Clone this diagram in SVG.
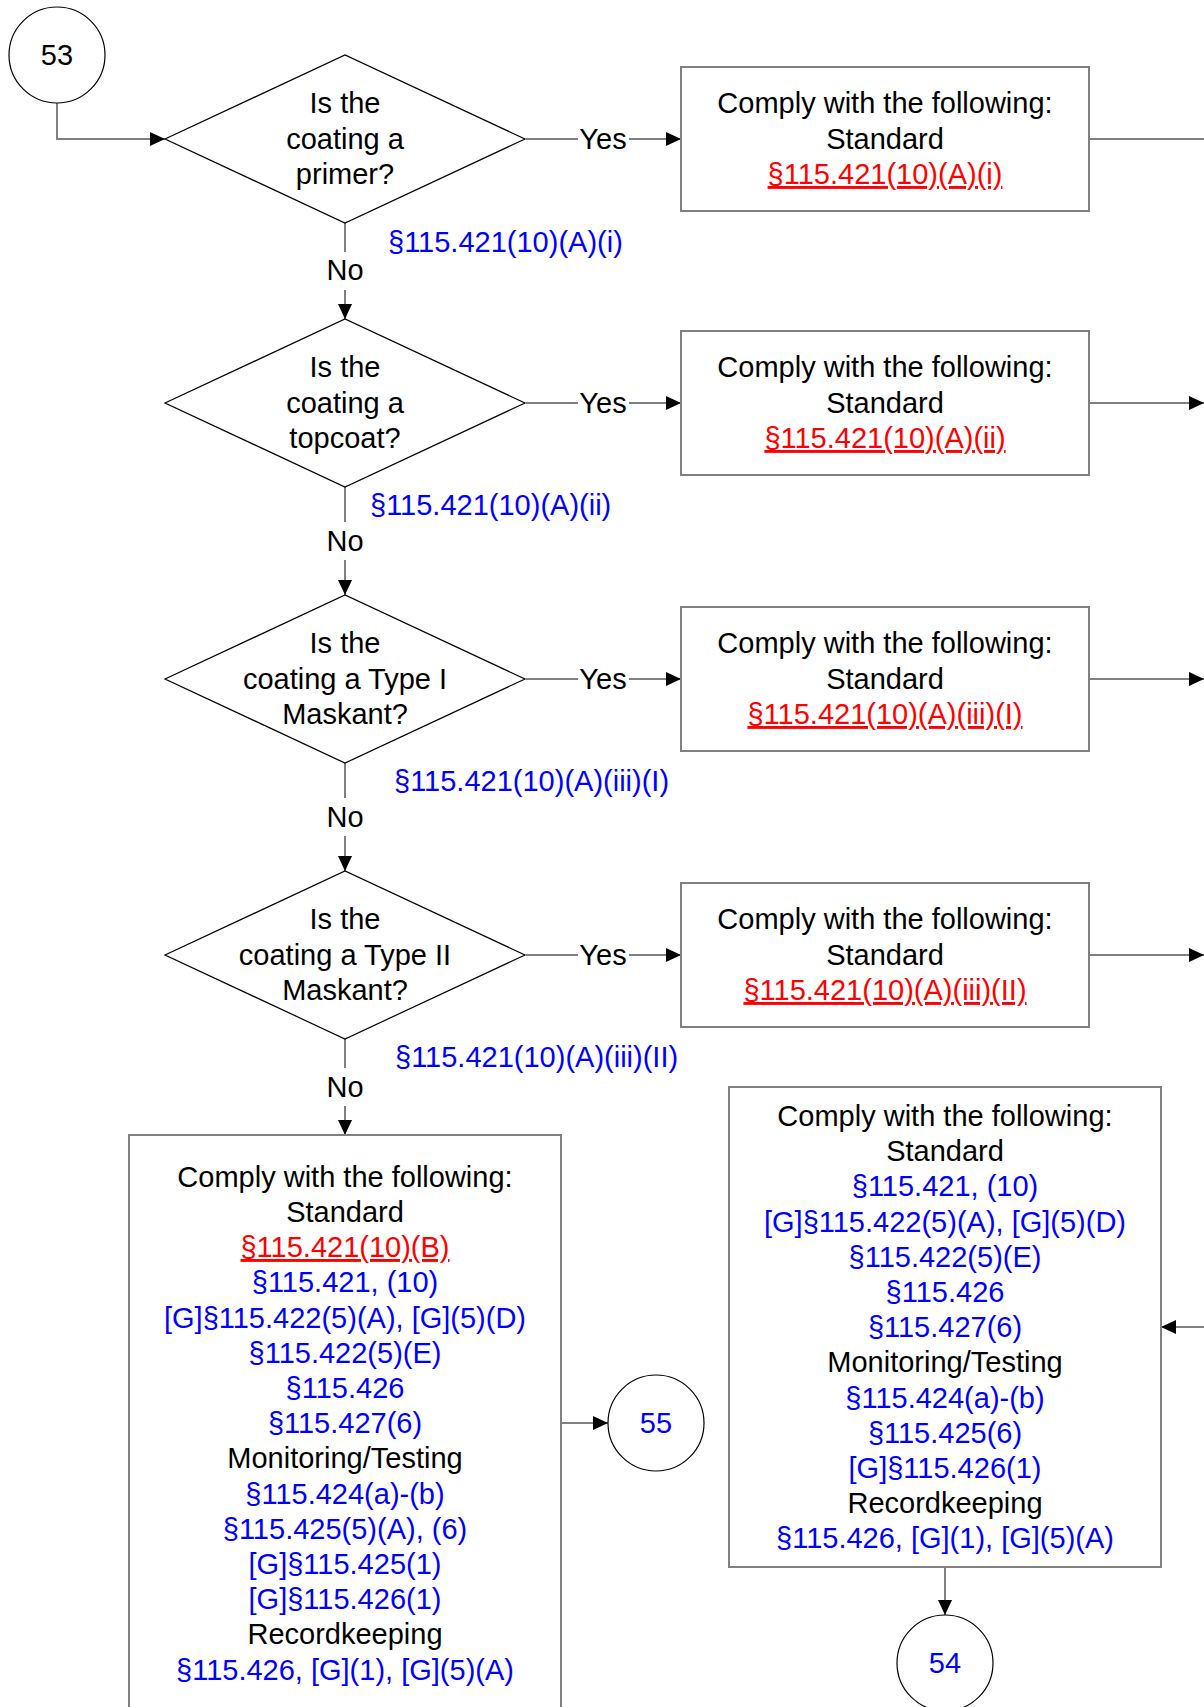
<svg xmlns="http://www.w3.org/2000/svg" width="1204" height="1707" viewBox="0 0 1204 1707">
<defs>
<style>
text{font-family:"Liberation Sans",Arial,sans-serif;font-size:29px;fill:#000}
.c{text-anchor:middle}
.b{fill:#0000FF}
.r{fill:#FF0000;text-decoration:underline;text-decoration-skip-ink:none}
.box{fill:#fff;stroke:#808080;stroke-width:2}
.dia{fill:#fff;stroke:#000;stroke-width:1.2}
.circ{fill:#fff;stroke:#000;stroke-width:1.2}
.ln{fill:none;stroke:#808080;stroke-width:2}
.arr{marker-end:url(#ah)}
</style>
<marker id="ah" markerUnits="userSpaceOnUse" markerWidth="15" markerHeight="14" refX="15" refY="7" orient="auto">
<path d="M0,0 L15,7 L0,14 z" fill="#000"/>
</marker>
</defs>
<rect width="1204" height="1707" fill="#fff"/>

<g id="connectors">
<path class="ln arr" d="M57,103 V139 H165"/>
<path class="ln" d="M526,139 H578"/><path class="ln arr" d="M629,139 H681"/>
<path class="ln" d="M1089,139 H1204"/>
<path class="ln" d="M345,223 V252"/><path class="ln arr" d="M345,290 V319"/>
<path class="ln" d="M526,403 H578"/><path class="ln arr" d="M629,403 H681"/>
<path class="ln arr" d="M1089,403 H1204"/>
<path class="ln" d="M345,487 V522"/><path class="ln arr" d="M345,560 V595"/>
<path class="ln" d="M526,679 H578"/><path class="ln arr" d="M629,679 H681"/>
<path class="ln arr" d="M1089,679 H1204"/>
<path class="ln" d="M345,763 V798"/><path class="ln arr" d="M345,836 V871"/>
<path class="ln" d="M526,955 H578"/><path class="ln arr" d="M629,955 H681"/>
<path class="ln arr" d="M1089,955 H1204"/>
<path class="ln" d="M345,1039 V1068"/><path class="ln arr" d="M345,1106 V1135"/>
<path class="ln arr" d="M561,1423 H608"/>
<path class="ln arr" d="M1204,1327 H1161"/>
<path class="ln arr" d="M945,1567 V1615"/>
<text class="c" x="603" y="149">Yes</text>
<text class="c" x="603" y="413">Yes</text>
<text class="c" x="603" y="689">Yes</text>
<text class="c" x="603" y="965">Yes</text>
<text class="c" x="345" y="280">No</text>
<text class="c" x="345" y="551">No</text>
<text class="c" x="345" y="827">No</text>
<text class="c" x="345" y="1097">No</text>
<text class="b" x="388" y="252">§115.421(10)(A)(i)</text>
<text class="b" x="370" y="515">§115.421(10)(A)(ii)</text>
<text class="b" x="394" y="791">§115.421(10)(A)(iii)(I)</text>
<text class="b" x="395" y="1067">§115.421(10)(A)(iii)(II)</text>
</g>

<g id="c53">
<circle class="circ" cx="57" cy="55" r="48"/>
<text class="c" x="57" y="65">53</text>
</g>

<g id="d1">
<path class="dia" d="M165,139 L345,55 L525,139 L345,223 z"/>
<text class="c" x="345" y="113">Is the</text>
<text class="c" x="345" y="149">coating a</text>
<text class="c" x="345" y="184">primer?</text>
</g>
<g id="b1">
<rect class="box" x="681" y="67" width="408" height="144"/>
<text class="c" x="885" y="113">Comply with the following:</text>
<text class="c" x="885" y="149">Standard</text>
<text class="c r" x="885" y="184">§115.421(10)(A)(i)</text>
</g>

<g id="d2">
<path class="dia" d="M165,403 L345,319 L525,403 L345,487 z"/>
<text class="c" x="345" y="377">Is the</text>
<text class="c" x="345" y="413">coating a</text>
<text class="c" x="345" y="448">topcoat?</text>
</g>
<g id="b2">
<rect class="box" x="681" y="331" width="408" height="144"/>
<text class="c" x="885" y="377">Comply with the following:</text>
<text class="c" x="885" y="413">Standard</text>
<text class="c r" x="885" y="448">§115.421(10)(A)(ii)</text>
</g>

<g id="d3">
<path class="dia" d="M165,679 L345,595 L525,679 L345,763 z"/>
<text class="c" x="345" y="653">Is the</text>
<text class="c" x="345" y="689">coating a Type I</text>
<text class="c" x="345" y="724">Maskant?</text>
</g>
<g id="b3">
<rect class="box" x="681" y="607" width="408" height="144"/>
<text class="c" x="885" y="653">Comply with the following:</text>
<text class="c" x="885" y="689">Standard</text>
<text class="c r" x="885" y="724">§115.421(10)(A)(iii)(I)</text>
</g>

<g id="d4">
<path class="dia" d="M165,955 L345,871 L525,955 L345,1039 z"/>
<text class="c" x="345" y="929">Is the</text>
<text class="c" x="345" y="965">coating a Type II</text>
<text class="c" x="345" y="1000">Maskant?</text>
</g>
<g id="b4">
<rect class="box" x="681" y="883" width="408" height="144"/>
<text class="c" x="885" y="929">Comply with the following:</text>
<text class="c" x="885" y="965">Standard</text>
<text class="c r" x="885" y="1000">§115.421(10)(A)(iii)(II)</text>
</g>

<g id="b5">
<path class="box" d="M129,1707 V1135 H561 V1707"/>
<text class="c" x="345" y="1187">Comply with the following:</text>
<text class="c" x="345" y="1222">Standard</text>
<text class="c r" x="345" y="1257">§115.421(10)(B)</text>
<text class="c b" x="345" y="1292">§115.421, (10)</text>
<text class="c b" x="345" y="1328">[G]§115.422(5)(A), [G](5)(D)</text>
<text class="c b" x="345" y="1363">§115.422(5)(E)</text>
<text class="c b" x="345" y="1398">§115.426</text>
<text class="c b" x="345" y="1433">§115.427(6)</text>
<text class="c" x="345" y="1468">Monitoring/Testing</text>
<text class="c b" x="345" y="1504">§115.424(a)-(b)</text>
<text class="c b" x="345" y="1539">§115.425(5)(A), (6)</text>
<text class="c b" x="345" y="1574">[G]§115.425(1)</text>
<text class="c b" x="345" y="1609">[G]§115.426(1)</text>
<text class="c" x="345" y="1644">Recordkeeping</text>
<text class="c b" x="345" y="1680">§115.426, [G](1), [G](5)(A)</text>
</g>

<g id="c55">
<circle class="circ" cx="656" cy="1423" r="48"/>
<text class="c b" x="656" y="1433">55</text>
</g>

<g id="b6">
<rect class="box" x="729" y="1087" width="432" height="480"/>
<text class="c" x="945" y="1126">Comply with the following:</text>
<text class="c" x="945" y="1161">Standard</text>
<text class="c b" x="945" y="1196">§115.421, (10)</text>
<text class="c b" x="945" y="1232">[G]§115.422(5)(A), [G](5)(D)</text>
<text class="c b" x="945" y="1267">§115.422(5)(E)</text>
<text class="c b" x="945" y="1302">§115.426</text>
<text class="c b" x="945" y="1337">§115.427(6)</text>
<text class="c" x="945" y="1372">Monitoring/Testing</text>
<text class="c b" x="945" y="1408">§115.424(a)-(b)</text>
<text class="c b" x="945" y="1443">§115.425(6)</text>
<text class="c b" x="945" y="1478">[G]§115.426(1)</text>
<text class="c" x="945" y="1513">Recordkeeping</text>
<text class="c b" x="945" y="1548">§115.426, [G](1), [G](5)(A)</text>
</g>

<g id="c54">
<circle class="circ" cx="945" cy="1663" r="48"/>
<text class="c b" x="945" y="1673">54</text>
</g>
</svg>
